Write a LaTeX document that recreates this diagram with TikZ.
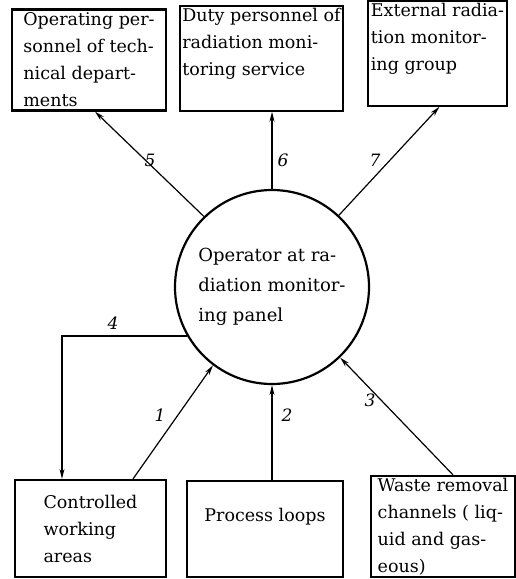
\documentclass[tikz,border=0pt]{standalone}
\usepackage{fontspec}
\setmainfont{DejaVu Serif}
\usetikzlibrary{arrows.meta}

\begin{document}
\begin{tikzpicture}[x=1pt,y=-1pt,
  box/.style={draw,line width=2.2pt,align=left,inner sep=2pt,font=\fontsize{17.5}{27}\selectfont},
  link/.style={line width=1.2pt,-{Stealth[length=10pt,width=5pt]}},
  num/.style={font=\itshape\fontsize{17}{17}\selectfont}]
  \useasboundingbox (0,0) rectangle (516,579);
  % receivers of the information
  \node[box,minimum width=154pt,minimum height=101pt] (staff) at (89,60) {Operating per-\\sonnel of tech-\\nical depart-\\ments};
  \node[box,minimum width=163pt,minimum height=99pt] (duty) at (261.5,58.5) {Duty personnel of\\radiation moni-\\toring service\\[6pt]};
  \node[box,minimum width=139pt,minimum height=97pt] (group) at (437.5,53.5) {External radia-\\tion monitor-\\ing group\\[6pt]};
  % central panel
  \node[circle,draw,line width=2.2pt,minimum size=194pt,inner sep=0pt,align=left,font=\fontsize{18}{30}\selectfont] (panel) at (272,287) {Operator at ra-\\diation monitor-\\ing panel};
  % sources
  \node[box,minimum width=151pt,minimum height=97pt] (areas) at (90.5,528.5) {Controlled\\working\\areas};
  \node[box,minimum width=156pt,minimum height=96pt,align=center] (loops) at (265,529) {Process loops\\[2pt]};
  \node[box,minimum width=144pt,minimum height=99pt] (waste) at (443,526.5) {Waste removal\\channels ( liq-\\uid and gas-\\eous)};

  \draw[link] (panel.134) -- ([xshift=6pt]staff.south);
  \draw[link] (panel.north) -- (panel.north |- duty.south);
  \draw[link] (panel.47) -- ([xshift=2pt]group.south);
  \draw[link] (panel.210) -| ([xshift=-28.5pt]areas.north);
  \draw[link] ([xshift=42.5pt]areas.north) -- (panel.233);
  \draw[link] (panel.south |- loops.north) -- (panel.south);
  \draw[link] ([xshift=10pt]waste.north) -- (panel.314);

  \node[num] (n5) at (150,160) {5};
  \node[num] (n6) at (283,160) {6};
  \node[num] (n7) at (375,160) {7};
  \node[num] (n4) at (113,323) {4};
  \node[num] (n1) at (160,415) {1};
  \node[num] (n2) at (287,415) {2};
  \node[num] (n3) at (370,400) {3};
\end{tikzpicture}
\end{document}
